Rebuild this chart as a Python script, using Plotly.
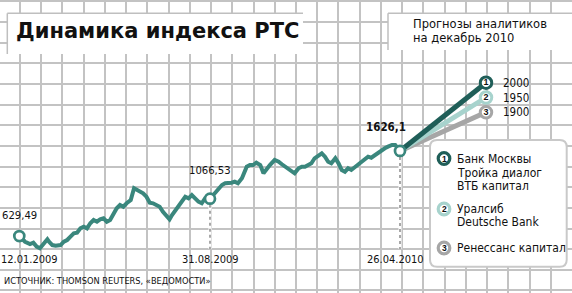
import plotly.graph_objects as go
import pandas as pd

# ---------------- data ----------------
DATES = [
    "2009-01-12", "2009-01-19", "2009-01-25", "2009-01-29", "2009-02-02", "2009-02-06",
    "2009-02-11", "2009-02-15", "2009-02-17", "2009-02-21", "2009-02-25", "2009-03-03",
    "2009-03-07", "2009-03-11", "2009-03-15", "2009-03-19", "2009-03-23", "2009-03-27",
    "2009-03-31", "2009-04-04", "2009-04-08", "2009-04-12", "2009-04-16", "2009-04-20",
    "2009-04-24", "2009-04-28", "2009-05-02", "2009-05-06", "2009-05-10", "2009-05-14",
    "2009-05-18", "2009-05-22", "2009-05-27", "2009-05-31", "2009-06-04", "2009-06-07",
    "2009-06-11", "2009-06-15", "2009-06-19", "2009-06-23", "2009-06-27", "2009-07-01",
    "2009-07-05", "2009-07-09", "2009-07-13", "2009-07-16", "2009-07-20", "2009-07-24",
    "2009-07-28", "2009-08-01", "2009-08-05", "2009-08-09", "2009-08-13", "2009-08-17",
    "2009-08-21", "2009-08-25", "2009-08-31",
    "2009-09-06", "2009-09-10", "2009-09-15", "2009-09-19", "2009-09-23", "2009-09-27",
    "2009-10-01", "2009-10-05", "2009-10-10", "2009-10-14", "2009-10-16", "2009-10-20",
    "2009-10-24", "2009-10-28", "2009-11-02", "2009-11-06", "2009-11-10", "2009-11-14",
    "2009-11-20", "2009-11-25", "2009-11-29", "2009-12-03", "2009-12-07", "2009-12-11",
    "2009-12-15", "2009-12-20", "2009-12-24", "2009-12-28", "2010-01-01", "2010-01-05",
    "2010-01-09", "2010-01-14", "2010-01-18", "2010-01-22", "2010-01-26", "2010-01-30",
    "2010-02-04", "2010-02-08", "2010-02-12", "2010-02-16", "2010-02-20", "2010-02-24",
    "2010-03-01", "2010-03-05", "2010-03-09", "2010-03-13", "2010-03-17", "2010-03-21",
    "2010-03-26", "2010-03-30", "2010-04-03", "2010-04-07", "2010-04-11", "2010-04-16",
    "2010-04-20", "2010-04-26",
]
VALUES = [
    629.49, 563, 536, 551, 505, 486,
    544, 591, 563, 524, 516, 524,
    563, 583, 622, 661, 669, 720,
    739, 720, 779, 817, 797, 825,
    837, 797, 817, 896, 954, 993,
    973, 1013, 1051, 1189, 1169, 1149,
    1130, 1090, 1020, 1013, 993, 973,
    914, 876, 825, 876, 934, 993,
    1032, 1090, 1071, 1110, 1071, 1032,
    1013, 1071, 1066.53,
    1130, 1189, 1227, 1247, 1247, 1254,
    1266, 1247, 1306, 1383, 1441, 1461,
    1461, 1488, 1461, 1364, 1423, 1461,
    1520, 1500, 1470, 1441, 1423, 1383,
    1364, 1423, 1441, 1441, 1461, 1481,
    1540, 1579, 1598, 1559, 1500, 1481,
    1540, 1481, 1403, 1383, 1423, 1403,
    1441, 1481, 1508, 1540, 1559, 1547,
    1579, 1617, 1637, 1657, 1676, 1696,
    1696, 1626.1,
]

KEY_DATES = ["2009-01-12", "2009-08-31", "2010-04-26"]
KEY_VALUES = [629.49, 1066.53, 1626.1]
KEY_VALUE_LABELS = ["629,49", "1066,53", "1626,1"]
KEY_DATE_LABELS = ["12.01.2009", "31.08.2009", "26.04.2010"]

FORECAST_VALUES = [2000, 1950, 1900]
FORECAST_LABELS = ["2000", "1950", "1900"]
FORECAST_NUMBERS = ["1", "2", "3"]
FORECAST_ANALYSTS = [
    ["Банк Москвы", "Тройка диалог", "ВТБ капитал"],
    ["Уралсиб", "Deutsche Bank"],
    ["Ренессанс капитал"],
]
FAN_CATEGORIES = ["26.04.2010", "декабрь 2010"]

TITLE = "Динамика индекса РТС"
SUBTITLE_LINES = ["Прогнозы аналитиков", "на декабрь 2010"]
SOURCE = "ИСТОЧНИК: THOMSON REUTERS, «ВЕДОМОСТИ»"

# ---------------- layout constants ----------------
W, H = 572, 293
LINE_COLOR = "#3a877d"
FAN_COLORS = ["#1f5e58", "#a7d3cd", "#a6a6a6"]
GRID_COLOR = "#c3c3c3"
BORDER_COLOR = "#bfbfbf"
COND = "DejaVu Sans Condensed, DejaVu Sans, sans-serif"
SANS = "Liberation Sans, Arial, sans-serif"
INK = "#111111"

GRID_X0, GRID_DX = 20.0, 21.23
GRID_Y0, GRID_DY = 63.3, 20.65

VALUE_RANGE = [-37.7, 3394.0]
FAN_RANGE = [1289.5, 2279.4]
SEG_A_PX = (19.3, 210.0)
SEG_B_PX = (210.0, 400.0)
FAN_PX = (400.0, 486.0)


def px(x):
    return x / W


def py(y):
    return 1 - y / H


def date_range(d1, p1, d2, p2):
    t1, t2 = pd.Timestamp(d1), pd.Timestamp(d2)
    per_px = (t2 - t1) / (p2 - p1)
    left = t1 - per_px * p1
    right = t1 + per_px * (W - p1)
    return [left.strftime("%Y-%m-%d %H:%M:%S"), right.strftime("%Y-%m-%d %H:%M:%S")]


def value_at_px(p):
    return VALUE_RANGE[1] - p / H * (VALUE_RANGE[1] - VALUE_RANGE[0])


def rounded_rect(x0, y0, x1, y1, r):
    return (f"M {px(x0 + r)},{py(y0)} L {px(x1 - r)},{py(y0)} "
            f"Q {px(x1)},{py(y0)} {px(x1)},{py(y0 + r)} L {px(x1)},{py(y1 - r)} "
            f"Q {px(x1)},{py(y1)} {px(x1 - r)},{py(y1)} L {px(x0 + r)},{py(y1)} "
            f"Q {px(x0)},{py(y1)} {px(x0)},{py(y1 - r)} L {px(x0)},{py(y0 + r)} "
            f"Q {px(x0)},{py(y0)} {px(x0 + r)},{py(y0)} Z")


df = pd.DataFrame({"date": pd.to_datetime(DATES), "value": VALUES})
split = pd.Timestamp(KEY_DATES[1])
seg_a = df[df["date"] <= split]
seg_b = df[df["date"] >= split]

# start of forecast fan, expressed on the fan scale at the same height as the last value
frac = (KEY_VALUES[2] - VALUE_RANGE[0]) / (VALUE_RANGE[1] - VALUE_RANGE[0])
fan_start = FAN_RANGE[0] + frac * (FAN_RANGE[1] - FAN_RANGE[0])

fig = go.Figure()

# grid subplot (main xy)
fig.add_trace(go.Scatter(x=[], y=[], xaxis="x", yaxis="y", showlegend=False, hoverinfo="skip"))

# forecast fan (x2/y2)
for i in reversed(range(len(FORECAST_VALUES))):
    fig.add_trace(go.Scatter(
        x=FAN_CATEGORIES, y=[fan_start, FORECAST_VALUES[i]], xaxis="x2", yaxis="y2",
        mode="lines", line=dict(color=FAN_COLORS[i], width=5), hoverinfo="skip", showlegend=False))
fig.add_trace(go.Scatter(
    x=[FAN_CATEGORIES[1]] * len(FORECAST_VALUES), y=FORECAST_VALUES, xaxis="x2", yaxis="y2",
    mode="markers+text", text=[f"<b>{n}</b>" for n in FORECAST_NUMBERS], textposition="middle center",
    textfont=dict(family=SANS, size=9, color=INK),
    marker=dict(size=11.5, color="white", line=dict(color=FAN_COLORS, width=3)),
    cliponaxis=False, hoverinfo="skip", showlegend=False))

# index line, first part (x3/y3)
fig.add_trace(go.Scatter(
    x=seg_a["date"], y=seg_a["value"], xaxis="x3", yaxis="y3", mode="lines",
    line=dict(color=LINE_COLOR, width=4), hoverinfo="skip", showlegend=False))
fig.add_trace(go.Scatter(
    x=[KEY_DATES[0]], y=[KEY_VALUES[0]], xaxis="x3", yaxis="y3", mode="markers",
    marker=dict(size=10, color="white", line=dict(color=LINE_COLOR, width=2.7)),
    cliponaxis=False, hoverinfo="skip", showlegend=False))

# second part (x4/y3)
drop_bottom = value_at_px(249)
for k in (1, 2):
    fig.add_trace(go.Scatter(
        x=[KEY_DATES[k], KEY_DATES[k]], y=[KEY_VALUES[k], drop_bottom], xaxis="x4", yaxis="y3",
        mode="lines", line=dict(color="white", width=3), hoverinfo="skip", showlegend=False))
    fig.add_trace(go.Scatter(
        x=[KEY_DATES[k], KEY_DATES[k]], y=[KEY_VALUES[k], drop_bottom], xaxis="x4", yaxis="y3",
        mode="lines", line=dict(color="#8c8c8c", width=1.5, dash="dot"), hoverinfo="skip",
        showlegend=False))
fig.add_trace(go.Scatter(
    x=seg_b["date"], y=seg_b["value"], xaxis="x4", yaxis="y3", mode="lines",
    line=dict(color=LINE_COLOR, width=4), hoverinfo="skip", showlegend=False))
fig.add_trace(go.Scatter(
    x=KEY_DATES[1:], y=KEY_VALUES[1:], xaxis="x4", yaxis="y3", mode="markers",
    marker=dict(size=10, color="white", line=dict(color=LINE_COLOR, width=2.7)),
    cliponaxis=False, hoverinfo="skip", showlegend=False))

hidden = dict(visible=False, showgrid=False, zeroline=False, fixedrange=True)
fig.update_layout(
    width=W, height=H, autosize=False,
    margin=dict(l=0, r=0, t=0, b=0, pad=0),
    paper_bgcolor="white", plot_bgcolor="rgba(0,0,0,0)",
    showlegend=False,
    xaxis=dict(domain=[0, 1], range=[-GRID_X0 / GRID_DX, (W - GRID_X0) / GRID_DX],
               tick0=0, dtick=1, showgrid=True, gridcolor=GRID_COLOR, gridwidth=1.6,
               zeroline=False, showticklabels=False, ticks="", showline=False, fixedrange=True),
    yaxis=dict(domain=[0, 1], range=[(GRID_Y0 - H) / GRID_DY, GRID_Y0 / GRID_DY],
               tick0=0, dtick=1, showgrid=True, gridcolor=GRID_COLOR, gridwidth=1.6,
               zeroline=False, showticklabels=False, ticks="", showline=False, fixedrange=True),
    xaxis2=dict(type="category", categoryorder="array", categoryarray=FAN_CATEGORIES,
                range=[-FAN_PX[0] / (FAN_PX[1] - FAN_PX[0]), (W - FAN_PX[0]) / (FAN_PX[1] - FAN_PX[0])],
                overlaying="x", anchor="y2", **hidden),
    yaxis2=dict(range=FAN_RANGE, overlaying="y", anchor="x2", **hidden),
    xaxis3=dict(type="date", range=date_range(KEY_DATES[0], SEG_A_PX[0], KEY_DATES[1], SEG_A_PX[1]),
                overlaying="x", anchor="y3", **hidden),
    yaxis3=dict(range=VALUE_RANGE, overlaying="y", anchor="x3", **hidden),
    xaxis4=dict(type="date", range=date_range(KEY_DATES[1], SEG_B_PX[0], KEY_DATES[2], SEG_B_PX[1]),
                overlaying="x", anchor="y3", **hidden),
)

shapes = []
# title box
shapes.append(dict(type="rect", xref="paper", yref="paper", x0=px(7.3), x1=px(303), y0=py(54), y1=py(13.3),
                   fillcolor="white", line=dict(width=0), layer="above"))
shapes.append(dict(type="line", xref="paper", yref="paper", x0=px(7.3), x1=px(303), y0=py(13.3), y1=py(13.3),
                   line=dict(color=BORDER_COLOR, width=1.5), layer="above"))
shapes.append(dict(type="line", xref="paper", yref="paper", x0=px(7.3), x1=px(7.3), y0=py(54), y1=py(13.3),
                   line=dict(color=BORDER_COLOR, width=1.5), layer="above"))
# forecast header box
shapes.append(dict(type="rect", xref="paper", yref="paper", x0=px(388), x1=1, y0=py(50), y1=py(13.3),
                   fillcolor="white", line=dict(width=0), layer="above"))
shapes.append(dict(type="line", xref="paper", yref="paper", x0=px(388), x1=1, y0=py(13.3), y1=py(13.3),
                   line=dict(color=BORDER_COLOR, width=1.5), layer="above"))
shapes.append(dict(type="line", xref="paper", yref="paper", x0=px(388), x1=px(388), y0=py(50), y1=py(13.3),
                   line=dict(color=BORDER_COLOR, width=1.5), layer="above"))
# analysts box
shapes.append(dict(type="path", xref="paper", yref="paper", path=rounded_rect(430, 140, 566.7, 266.7, 7),
                   fillcolor="white", line=dict(color="#c9c9c9", width=2), layer="above"))

annotations = []
annotations.append(dict(xref="paper", yref="paper", x=px(14), y=py(30.5), xanchor="left", yanchor="middle",
                        text=f"<b>{TITLE}</b>", showarrow=False,
                        font=dict(family="DejaVu Sans", size=21, color=INK)))
for j, line in enumerate(SUBTITLE_LINES):
    annotations.append(dict(xref="paper", yref="paper", x=px(411), y=py(23 + 15 * j), xanchor="left",
                            yanchor="middle", text=line, showarrow=False,
                            font=dict(family=COND, size=12.8, color=INK)))
annotations.append(dict(xref="paper", yref="paper", x=px(2), y=py(280.5), xanchor="left", yanchor="middle",
                        text=SOURCE, showarrow=False, font=dict(family=COND, size=9.2, color=INK)))

# value labels on key points
value_axes = ["x3", "x3", "x4"]
value_shift = [(0, 21), (0, 28), (-14, 23.5)]
for k in range(3):
    txt = KEY_VALUE_LABELS[k] if k < 2 else f"<b>{KEY_VALUE_LABELS[k]}</b>"
    annotations.append(dict(xref=value_axes[k], yref="y3", x=KEY_DATES[k], y=KEY_VALUES[k],
                            xshift=value_shift[k][0], yshift=value_shift[k][1],
                            xanchor="center", yanchor="middle", text=txt, showarrow=False,
                            font=dict(family=COND, size=11.2 if k < 2 else 11.5, color=INK)))
# date labels
date_shift = [10, 0.5, -5]
for k in range(3):
    annotations.append(dict(xref=value_axes[k], yref="paper", x=KEY_DATES[k], y=py(259),
                            xshift=date_shift[k], xanchor="center", yanchor="middle",
                            text=KEY_DATE_LABELS[k], showarrow=False,
                            font=dict(family=COND, size=11, color=INK)))
# forecast value labels
for i, v in enumerate(FORECAST_VALUES):
    annotations.append(dict(xref="x2", yref="y2", x=FAN_CATEGORIES[1], y=v, xshift=15,
                            xanchor="left", yanchor="middle", text=FORECAST_LABELS[i], showarrow=False,
                            font=dict(family=COND, size=11.5, color=INK)))

# analysts legend
legend_rows = [[158.5, 172.5, 186], [209, 222], [248]]
for i, names in enumerate(FORECAST_ANALYSTS):
    cy = legend_rows[i][0]
    shapes.append(dict(type="circle", xref="paper", yref="paper",
                       x0=px(444 - 5.8), x1=px(444 + 5.8), y0=py(cy + 5.8), y1=py(cy - 5.8),
                       fillcolor="white", line=dict(color=FAN_COLORS[i], width=3.2), layer="above"))
    annotations.append(dict(xref="paper", yref="paper", x=px(444), y=py(cy), xanchor="center",
                            yanchor="middle", text=f"<b>{FORECAST_NUMBERS[i]}</b>", showarrow=False,
                            font=dict(family=SANS, size=8.5, color=INK)))
    for j, name in enumerate(names):
        annotations.append(dict(xref="paper", yref="paper", x=px(455), y=py(legend_rows[i][j]),
                                xanchor="left", yanchor="middle", text=name, showarrow=False,
                                font=dict(family=COND, size=12, color=INK)))

fig.update_layout(shapes=shapes, annotations=annotations)
fig.write_html("out.html", config={"displayModeBar": False})
